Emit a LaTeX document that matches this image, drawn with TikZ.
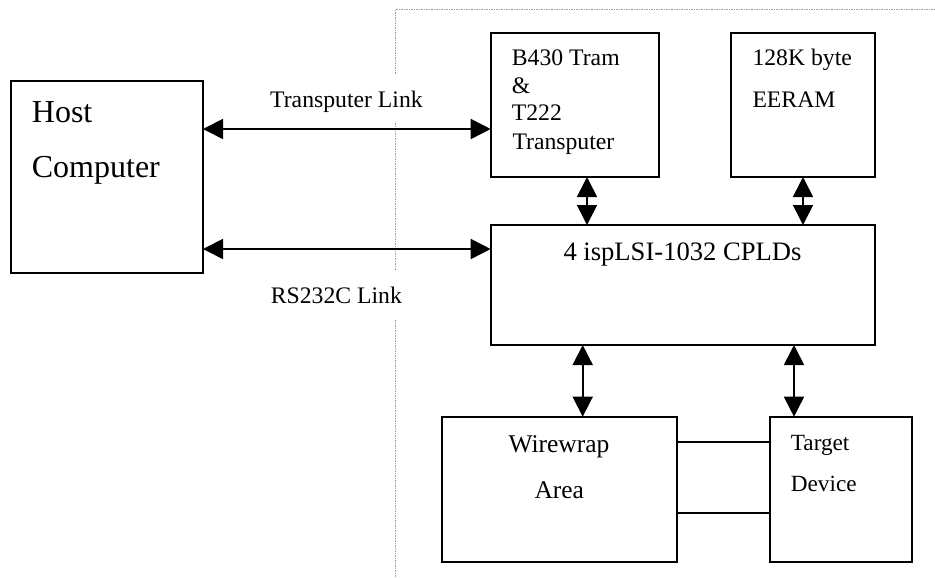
\documentclass[tikz,border=0pt]{standalone}
\usepackage{fontspec}
\setmainfont{Liberation Serif}
\usetikzlibrary{arrows.meta}
\begin{document}
\begin{tikzpicture}[x=1pt,y=-1pt,
  box/.style={draw,line width=1.7pt,inner sep=0pt,outer sep=0pt,anchor=north west},
  lbl/.style={inner sep=0pt,anchor=base west,font=\fontsize{23.7}{26}\selectfont},
  biarrow/.style={line width=1.7pt,{Triangle[length=20pt,width=20pt]}-{Triangle[length=20pt,width=20pt]}},
  link/.style={line width=1.7pt},
  divider/.style={draw=gray!75,line width=0.8pt,dash pattern=on 1.5pt off 1pt}]
\useasboundingbox (0,0) rectangle (935,578);
% divider
\coordinate (d0) at (395,9.5);
\coordinate (d1) at (935,9.5);
\coordinate (d2) at (395,74);
\coordinate (d3) at (395,123);
\coordinate (d4) at (395,270);
\coordinate (d5) at (395,320);
\coordinate (d6) at (395,578);
\draw[divider] (d1) -- (d0) -- (d2);
\draw[divider] (d3) -- (d4);
\draw[divider] (d5) -- (d6);
% boxes
\node[box,minimum width=192pt,minimum height=192pt] (host) at (11,81) {};
\node[box,minimum width=168.3pt,minimum height=144pt] (b430) at (490.7,33) {};
\node[box,minimum width=144.3pt,minimum height=144pt] (eeram) at (730.7,33) {};
\node[box,minimum width=384.3pt,minimum height=120pt] (cpld) at (490.7,225) {};
\node[box,minimum width=235pt,minimum height=145pt] (wwa) at (441.7,416.7) {};
\node[box,minimum width=141.7pt,minimum height=145pt] (target) at (770,416.7) {};
% texts
\node[lbl,font=\fontsize{32}{36}\selectfont] (thost) at (31.7,122) {Host};
\node[lbl,font=\fontsize{32}{36}\selectfont] (tcomp) at (31.7,177.5) {Computer};
\node[lbl] (ttl) at (270,107.3) {Transputer Link};
\node[lbl] (trs) at (270.7,303.3) {RS232C Link};
\node[lbl] (tb1) at (511.7,65.7) {B430 Tram};
\node[lbl] (tb2) at (511.7,94) {\&};
\node[lbl] (tb3) at (511.7,120.7) {T222};
\node[lbl] (tb4) at (512.3,149) {Transputer};
\node[lbl] (te1) at (752.3,65.7) {128K byte};
\node[lbl] (te2) at (752.3,107.7) {EERAM};
\node[lbl,font=\fontsize{26.6}{30}\selectfont] (tc) at (563.3,260) {4 ispLSI-1032 CPLDs};
\node[lbl,font=\fontsize{25.5}{29}\selectfont] (tw1) at (508.3,452.7) {Wirewrap};
\node[lbl,font=\fontsize{25.5}{29}\selectfont] (tw2) at (534.3,498) {Area};
\node[lbl,font=\fontsize{23.2}{26}\selectfont] (tt1) at (790.7,450.7) {Target};
\node[lbl,font=\fontsize{23.2}{26}\selectfont] (tt2) at (790.7,491.7) {Device};
% connectors
\coordinate (yT) at (0,129);
\coordinate (yR) at (0,249);
\coordinate (xA) at (587,0);
\coordinate (xB) at (803,0);
\coordinate (xC) at (582.7,0);
\coordinate (xD) at (794,0);
\coordinate (yW1) at (0,441.7);
\coordinate (yW2) at (0,513.3);
\draw[biarrow] (host.east |- yT) -- (b430.west |- yT);
\draw[biarrow] (host.east |- yR) -- (cpld.west |- yR);
\draw[biarrow] (xA |- b430.south) -- (xA |- cpld.north);
\draw[biarrow] (xB |- eeram.south) -- (xB |- cpld.north);
\draw[biarrow] (xC |- cpld.south) -- (xC |- wwa.north);
\draw[biarrow] (xD |- cpld.south) -- (xD |- target.north);
\draw[link] (wwa.east |- yW1) -- (target.west |- yW1);
\draw[link] (wwa.east |- yW2) -- (target.west |- yW2);
\end{tikzpicture}
\end{document}
